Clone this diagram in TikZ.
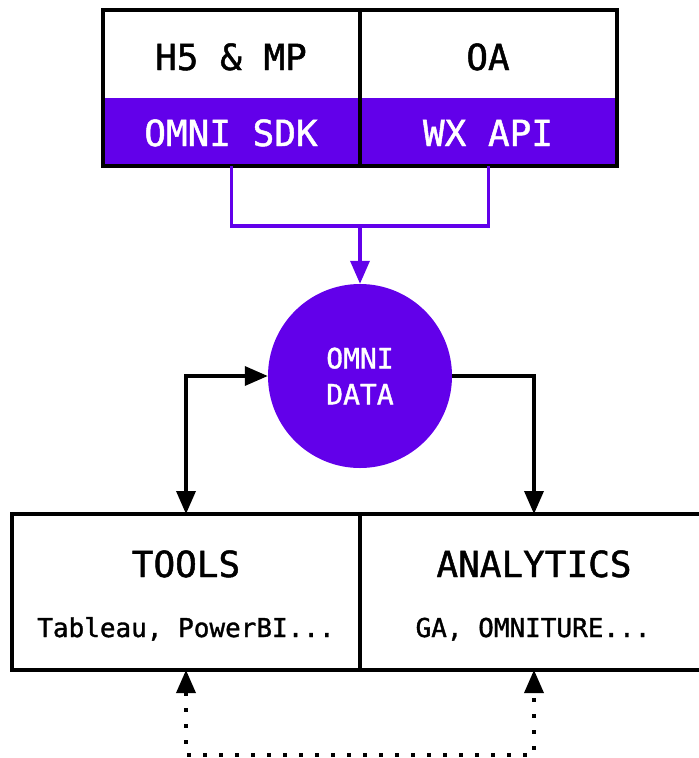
\documentclass[tikz,border=0pt]{standalone}
\usepackage{fontspec}
\newfontfamily\monofam[FakeBold=1.3]{DejaVu Sans Mono}
\usetikzlibrary{arrows.meta}
\definecolor{omni}{HTML}{6200EA}
\tikzset{
  cell/.style={rectangle, inner sep=0pt, outer sep=0pt},
  bigtxt/.style={font=\monofam\fontsize{36}{40}\selectfont, inner sep=0pt, anchor=base},
  smalltxt/.style={font=\monofam\fontsize{26}{30}\selectfont, inner sep=0pt, anchor=base},
  frame/.style={line width=3.5pt, black},
  tip/.style={-{Triangle[length=23pt,width=19pt]}},
  biway/.style={{Triangle[length=23pt,width=19pt]}-{Triangle[length=23pt,width=19pt]}},
  flow/.style={line width=3.5pt, black},
  feed/.style={line width=3.5pt, omni},
  dots/.style={line width=3.5pt, dash pattern=on 3.5pt off 12.5pt}
}
\begin{document}
\begin{tikzpicture}[x=1pt, y=-1pt]
\useasboundingbox (0,0) rectangle (699,758);

% top block: sources and their SDK / API layer
\node[cell, minimum width=257pt, minimum height=88pt] (h5) at (231.5,54) {};
\node[cell, minimum width=257pt, minimum height=88pt] (oa) at (488.5,54) {};
\node[cell, fill=omni, minimum width=257pt, minimum height=68pt] (sdk) at (231.5,132) {};
\node[cell, fill=omni, minimum width=257pt, minimum height=68pt] (wx) at (488.5,132) {};
\draw[frame] (h5.north west) rectangle (wx.south east);
\draw[frame] (h5.north east) -- (sdk.south east);
\node[bigtxt] (h5t) at (231,70) {H5 \& MP};
\node[bigtxt] (oat) at (488,70) {OA};
\node[bigtxt, text=white] (sdkt) at (231,146) {OMNI SDK};
\node[bigtxt, text=white] (wxt) at (488,146) {WX API};

% central data hub
\node[circle, fill=omni, minimum size=184pt, inner sep=0pt, text=white,
      align=center, font=\monofam\fontsize{28}{36}\selectfont] (data) at (360,376) {OMNI\\DATA};

% feeds into the hub
\coordinate (join) at (360,226);
\draw[feed] (sdk.south) |- (join) -| (wx.south);
\draw[feed, tip] (join) -- (data.north);

% bottom block: consumers
\node[cell, draw, line width=3.5pt, minimum width=348pt, minimum height=156pt] (tools) at (186,592) {};
\node[cell, draw, line width=3.5pt, minimum width=348pt, minimum height=156pt] (ana) at (534,592) {};
\node[bigtxt] (toolst) at (186,577) {TOOLS};
\node[bigtxt] (anat) at (534,577) {ANALYTICS};
\node[smalltxt] (toolss) at (186,637) {Tableau, PowerBI...};
\node[smalltxt] (anas) at (533,637) {GA, OMNITURE...};

% hub to consumers
\draw[flow, biway] (data.west) -| (tools.north);
\draw[flow, tip] (data.east) -| (ana.north);

% exchange between consumers
\coordinate (loop) at (360,755);
\draw[flow, dots, biway] (tools.south) |- (loop) -| (ana.south);
\end{tikzpicture}
\end{document}
